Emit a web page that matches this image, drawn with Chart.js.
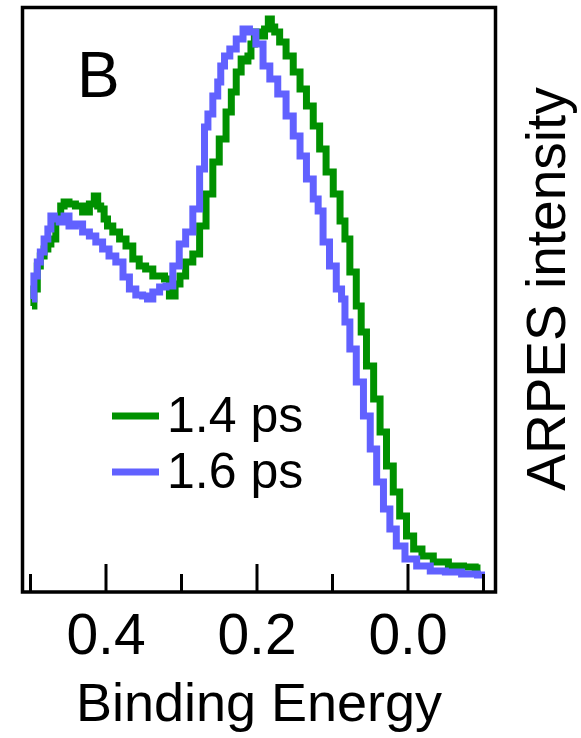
<!DOCTYPE html>
<html>
<head>
<meta charset="utf-8">
<script src="https://cdn.jsdelivr.net/npm/chart.js@4.4.0/dist/chart.umd.min.js"></script>
<style>
  html, body { margin: 0; padding: 0; background: #fff; }
</style>
</head>
<body>
<canvas id="arpes" width="581" height="738"></canvas>
<script>
// series (binding energy in eV, intensity in arb. units)
const seriesLabels = ['1.4 ps', '1.6 ps'];
const seriesColors = ['#009100', '#6161ff'];

const greenEnergy = [0.498, 0.493, 0.489, 0.485, 0.479, 0.475, 0.471, 0.462, 0.458, 0.453, 0.445, 0.436, 0.426, 0.418, 0.413, 0.409, 0.405, 0.400, 0.396, 0.386, 0.378, 0.369, 0.360, 0.352, 0.343, 0.333, 0.325, 0.320, 0.312, 0.305, 0.299, 0.290, 0.280, 0.272, 0.263, 0.254, 0.246, 0.236, 0.232, 0.223, 0.219, 0.214, 0.210, 0.206, 0.201, 0.193, 0.187, 0.183, 0.179, 0.174, 0.166, 0.157, 0.147, 0.139, 0.130, 0.121, 0.113, 0.104, 0.094, 0.086, 0.081, 0.073, 0.064, 0.060, 0.050, 0.041, 0.033, 0.024, 0.015, 0.007, -0.003, -0.012, -0.025, -0.042, -0.065, -0.082, -0.096];
const greenIntensity = [286, 303, 326, 336, 343, 348, 353, 373, 386, 390, 388, 386, 380, 388, 396, 386, 383, 373, 366, 360, 353, 346, 333, 326, 323, 316, 316, 313, 296, 308, 316, 330, 338, 366, 398, 430, 453, 480, 500, 520, 533, 531, 536, 548, 560, 556, 563, 573, 565, 560, 550, 536, 520, 503, 486, 466, 443, 420, 398, 371, 353, 320, 286, 260, 226, 193, 160, 126, 100, 76, 56, 43, 36, 30, 26, 25, 24];

const blueEnergy = [0.498, 0.493, 0.489, 0.485, 0.479, 0.475, 0.471, 0.466, 0.458, 0.453, 0.445, 0.436, 0.426, 0.418, 0.409, 0.400, 0.392, 0.382, 0.373, 0.365, 0.356, 0.347, 0.343, 0.333, 0.325, 0.316, 0.307, 0.299, 0.290, 0.280, 0.272, 0.267, 0.263, 0.254, 0.250, 0.246, 0.240, 0.232, 0.223, 0.214, 0.206, 0.197, 0.187, 0.179, 0.166, 0.157, 0.147, 0.139, 0.130, 0.121, 0.117, 0.108, 0.100, 0.090, 0.086, 0.081, 0.073, 0.064, 0.054, 0.046, 0.037, 0.028, 0.020, 0.011, -0.003, -0.020, -0.039, -0.060, -0.082, -0.102];
const blueIntensity = [293, 316, 330, 340, 353, 363, 376, 373, 370, 376, 366, 368, 360, 356, 350, 343, 336, 330, 315, 303, 297, 296, 293, 300, 305, 306, 326, 348, 360, 383, 423, 465, 478, 496, 510, 526, 536, 543, 553, 563, 560, 548, 526, 513, 498, 476, 456, 436, 413, 393, 381, 350, 326, 303, 293, 270, 243, 210, 176, 143, 110, 83, 63, 46, 33, 26, 21, 20, 18, 17];

const majorTicks = [0.4, 0.2, 0.0];
const minorTicks = [0.5, 0.3, 0.1, -0.1];
const xLabel = 'Binding Energy';
const yLabel = 'ARPES intensity';
const panelLabel = 'B';

const FONT = '"Liberation Sans", Arial, sans-serif';

function toPoints(xs, ys) {
  return xs.map((x, i) => ({ x: x, y: ys[i] }));
}

// frame, inward ticks and the free text of the panel
const panelDecor = {
  id: 'panelDecor',
  afterDatasetsDraw(chart) {
    const ctx = chart.ctx;
    const area = chart.chartArea;
    const xs = chart.scales.x;
    ctx.save();
    ctx.strokeStyle = '#000';
    ctx.lineWidth = 3.5;
    ctx.strokeRect(area.left, area.top, area.right - area.left, area.bottom - area.top);
    ctx.lineWidth = 3;
    majorTicks.forEach((v) => {
      const px = xs.getPixelForValue(v);
      ctx.beginPath();
      ctx.moveTo(px, area.bottom);
      ctx.lineTo(px, area.bottom - 28);
      ctx.stroke();
    });
    minorTicks.forEach((v) => {
      const px = xs.getPixelForValue(v);
      ctx.beginPath();
      ctx.moveTo(px, area.bottom);
      ctx.lineTo(px, area.bottom - 18);
      ctx.stroke();
    });
    ctx.restore();
  },
  afterDraw(chart) {
    const ctx = chart.ctx;
    ctx.save();
    ctx.fillStyle = '#000';
    ctx.textBaseline = 'alphabetic';

    // panel letter
    ctx.font = '64px ' + FONT;
    ctx.textAlign = 'left';
    ctx.fillText(panelLabel, 77, 97);

    // legend (green first, as in the figure)
    ctx.font = '50px ' + FONT;
    const rows = [{ idx: 1, y: 416, base: 432 }, { idx: 0, y: 472, base: 488 }];
    rows.forEach((r) => {
      const ds = chart.data.datasets[r.idx];
      ctx.strokeStyle = ds.borderColor;
      ctx.lineWidth = 7;
      ctx.beginPath();
      ctx.moveTo(112, r.y);
      ctx.lineTo(159, r.y);
      ctx.stroke();
      ctx.fillText(ds.label, 167, r.base);
    });

    // right-hand axis title, reading upwards
    ctx.font = '55px ' + FONT;
    ctx.textAlign = 'center';
    ctx.translate(565, 289);
    ctx.rotate(-Math.PI / 2);
    ctx.fillText(yLabel, 0, 0);
    ctx.restore();
  }
};

new Chart(document.getElementById('arpes'), {
  type: 'line',
  data: {
    datasets: [
      {
        label: seriesLabels[1],
        data: toPoints(blueEnergy, blueIntensity),
        borderColor: seriesColors[1],
        borderWidth: 7,
        pointRadius: 0,
        stepped: 'middle',
        fill: false
      },
      {
        label: seriesLabels[0],
        data: toPoints(greenEnergy, greenIntensity),
        borderColor: seriesColors[0],
        borderWidth: 7,
        pointRadius: 0,
        stepped: 'middle',
        fill: false
      }
    ]
  },
  options: {
    responsive: false,
    animation: false,
    devicePixelRatio: 1,
    layout: { padding: { left: 22.5, top: 7.5, right: 85.5, bottom: 0 } },
    plugins: {
      legend: { display: false },
      tooltip: { enabled: false }
    },
    scales: {
      x: {
        type: 'linear',
        reverse: true,
        min: -0.1159,
        max: 0.5106,
        grid: { display: false, drawTicks: false },
        border: { display: false },
        afterBuildTicks: (scale) => {
          scale.ticks = majorTicks.map((v) => ({ value: v }));
        },
        afterFit: (scale) => { scale.height = 146; },
        ticks: {
          autoSkip: false,
          maxRotation: 0,
          padding: 18,
          color: '#000',
          font: { family: FONT, size: 57, lineHeight: 1 },
          callback: (v) => v.toFixed(1)
        },
        title: {
          display: true,
          text: xLabel,
          color: '#000',
          font: { family: FONT, size: 54, lineHeight: 1 },
          padding: { top: 0, bottom: 5 }
        }
      },
      y: {
        display: false,
        min: 0,
        max: 584.5
      }
    }
  },
  plugins: [panelDecor]
});
</script>
</body>
</html>
